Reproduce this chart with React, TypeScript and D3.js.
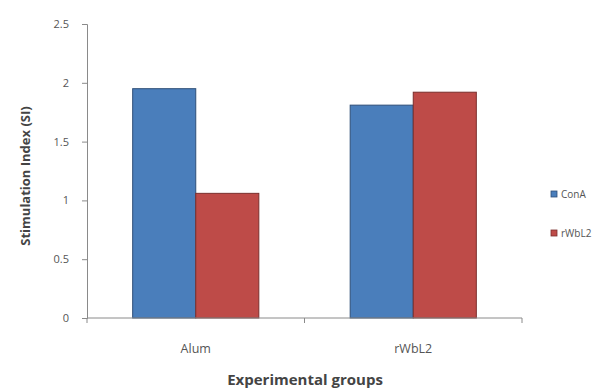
import { useEffect, useRef } from 'react'
import * as d3 from 'd3'

const groups = ['Alum', 'rWbL2']
const seriesNames = ['ConA', 'rWbL2']
const conA = [1.95, 1.81]
const rWbL2 = [1.06, 1.92]
const yTicks = [0, 0.5, 1, 1.5, 2, 2.5]

const fills = ['#4a7ebb', '#be4b48']
const strokes = ['#2f4f78', '#7a2f2d']

export default function App() {
  const ref = useRef<SVGSVGElement>(null)

  useEffect(() => {
    if (!ref.current) return
    const el = ref.current
    d3.select(el).selectAll('*').remove()
    const svg = d3.select(el)
    const font = '"Open Sans", Lato, sans-serif'

    const left = 87, right = 522, bottom = 318
    const y = d3.scaleLinear().domain([0, 2.5]).range([bottom, 24])
    const x0 = d3.scaleBand().domain(groups).range([left, right]).paddingInner(0.42).paddingOuter(0.21)
    const x1 = d3.scaleBand().domain(seriesNames).range([0, x0.bandwidth()])

    const values = [conA, rWbL2]

    // bars
    seriesNames.forEach((s, si) => {
      svg.append('g').selectAll('rect')
        .data(groups.map((g, gi) => ({ g, v: values[si][gi] })))
        .join('rect')
        .attr('x', d => x0(d.g)! + x1(s)!)
        .attr('y', d => y(d.v))
        .attr('width', x1.bandwidth())
        .attr('height', d => bottom - y(d.v))
        .attr('fill', fills[si])
        .attr('stroke', strokes[si])
        .attr('stroke-width', 1)
    })

    // y axis
    svg.append('g')
      .attr('transform', `translate(${left},0)`)
      .call(d3.axisLeft(y).tickValues(yTicks).tickSize(5).tickPadding(13).tickFormat(d => String(d)))
      .call(g => {
        g.select('.domain').attr('stroke', '#8a8a8a')
        g.selectAll('line').attr('stroke', '#8a8a8a')
        g.selectAll('text').attr('fill', '#555').attr('font-size', '11px').attr('font-family', font)
      })

    // x axis with boundary ticks
    svg.append('g')
      .attr('transform', `translate(0,${bottom})`)
      .call(g => {
        g.append('line').attr('x1', left).attr('x2', right).attr('stroke', '#8a8a8a')
        const bounds = [left, (x0(groups[0])! + x0.bandwidth() + x0(groups[1])!) / 2, right]
        g.selectAll('.tk').data(bounds).join('line')
          .attr('x1', d => d).attr('x2', d => d).attr('y1', 0).attr('y2', 5)
          .attr('stroke', '#8a8a8a')
        g.selectAll('text').data(groups).join('text')
          .attr('x', d => x0(d)! + x0.bandwidth() / 2)
          .attr('y', 35)
          .attr('text-anchor', 'middle')
          .attr('fill', '#555')
          .attr('font-size', '12.5px')
          .attr('font-family', font)
          .text(d => d)
      })

    // axis titles
    svg.append('text')
      .attr('transform', 'translate(30,176) rotate(-90)')
      .attr('text-anchor', 'middle')
      .attr('font-size', '13px')
      .attr('font-weight', 'bold')
      .attr('fill', '#444')
      .attr('font-family', font)
      .text('Stimulation Index (SI)')

    svg.append('text')
      .attr('x', 305)
      .attr('y', 385)
      .attr('text-anchor', 'middle')
      .attr('font-size', '15px')
      .attr('font-weight', 'bold')
      .attr('fill', '#444')
      .attr('font-family', font)
      .text('Experimental groups')

    // legend
    const lg = svg.append('g').attr('transform', 'translate(551,191)')
    seriesNames.forEach((s, i) => {
      const row = lg.append('g').attr('transform', `translate(0,${i * 39})`)
      row.append('rect').attr('width', 6).attr('height', 6)
        .attr('fill', fills[i]).attr('stroke', strokes[i]).attr('stroke-width', 0.8)
      row.append('text').attr('x', 10).attr('y', 7)
        .attr('font-size', '10px').attr('fill', '#555').attr('font-family', font)
        .text(s)
    })
  }, [])

  return (
    <svg ref={ref} width={616} height={390}
      style={{ position: 'absolute', left: 0, top: 0, background: '#fff', display: 'block' }} />
  )
}
